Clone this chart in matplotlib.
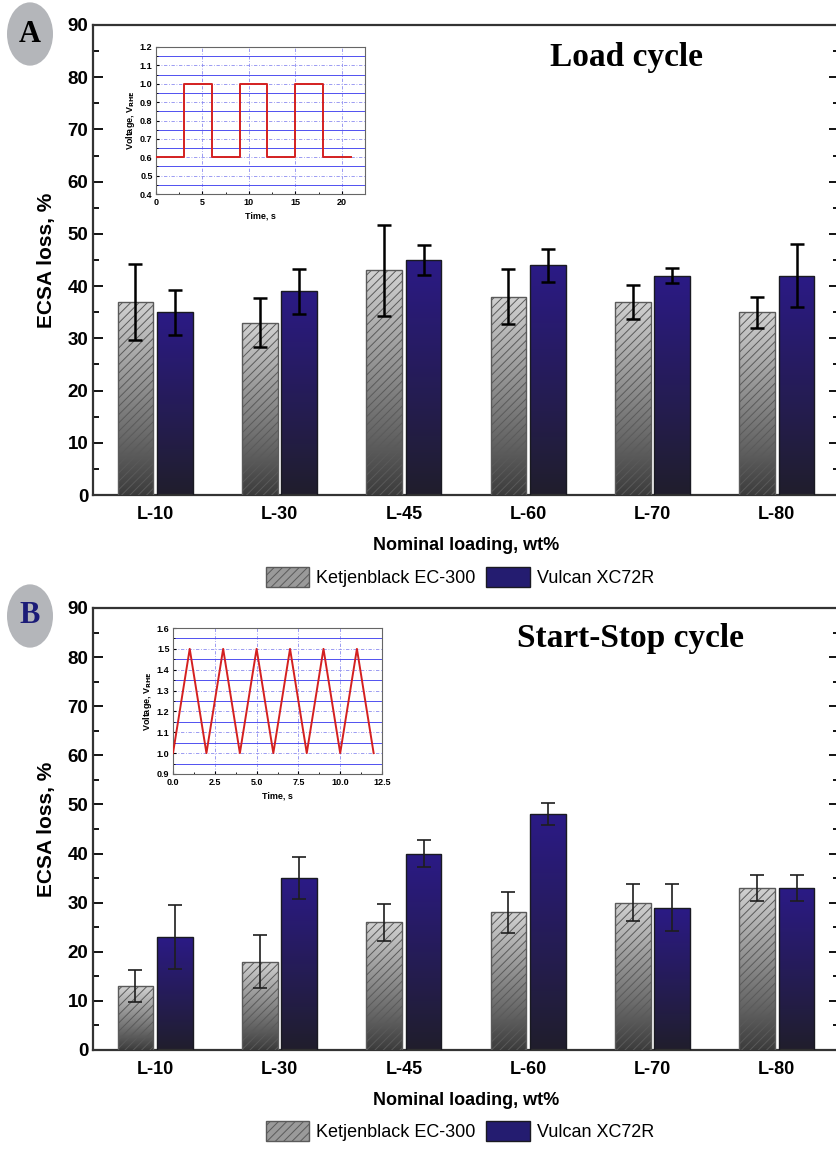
import numpy as np
import matplotlib
matplotlib.use('Agg')
import matplotlib.pyplot as plt
from matplotlib.colors import LinearSegmentedColormap
from matplotlib.patches import Patch, Circle
from matplotlib.ticker import MultipleLocator

# data
loadings = ['L-10', 'L-30', 'L-45', 'L-60', 'L-70', 'L-80']
series = ['Ketjenblack EC-300', 'Vulcan XC72R']

load_ketjen = [37, 33, 43, 38, 37, 35]
load_ketjen_err = [7.3, 4.7, 8.7, 5.2, 3.3, 3.0]
load_vulcan = [35, 39, 45, 44, 42, 42]
load_vulcan_err = [4.3, 4.3, 2.9, 3.2, 1.4, 6.0]

ss_ketjen = [13, 18, 26, 28, 30, 33]
ss_ketjen_err = [3.2, 5.4, 3.8, 4.1, 3.8, 2.7]
ss_vulcan = [23, 35, 40, 48, 29, 33]
ss_vulcan_err = [6.5, 4.2, 2.8, 2.2, 4.7, 2.7]

# inset protocols
load_t = [0, 3, 3, 6, 6, 9, 9, 12, 12, 15, 15, 18, 18, 21]
load_v = [0.6, 0.6, 1.0, 1.0, 0.6, 0.6, 1.0, 1.0, 0.6, 0.6, 1.0, 1.0, 0.6, 0.6]
ss_t = [0, 1, 2, 3, 4, 5, 6, 7, 8, 9, 10, 11, 12]
ss_v = [1.0, 1.5, 1.0, 1.5, 1.0, 1.5, 1.0, 1.5, 1.0, 1.5, 1.0, 1.5, 1.0]

plt.rcParams['font.family'] = 'Liberation Sans'
plt.rcParams['hatch.linewidth'] = 0.7

W, H = 836, 1150
fig = plt.figure(figsize=(W / 100, H / 100), dpi=100)

grey_cmap = LinearSegmentedColormap.from_list('g', ['#3c3c3c', '#d2d2d2'])
blue_cmap = LinearSegmentedColormap.from_list('b', ['#201e2c', '#2b1a86'])
grad = np.linspace(0, 1, 256).reshape(-1, 1)


def gradient_bars(ax, xs, hs, w, cmap, hatch, ec):
    bars = ax.bar(xs, hs, w, facecolor='none', edgecolor=ec, hatch=hatch,
                  lw=1.0, zorder=3)
    for rect in bars:
        x0 = rect.get_x()
        h = rect.get_height()
        im = ax.imshow(grad, cmap=cmap, origin='lower', aspect='auto',
                       extent=[x0, x0 + w, 0, h], zorder=2)
        im.set_clip_path(rect)
    return bars


def panel(rect, ket, ket_err, vul, vul_err, err_lw, err_c):
    ax = fig.add_axes(rect)
    x = np.arange(len(loadings))
    w = 0.286
    off = 0.159
    gradient_bars(ax, x - off, ket, w, grey_cmap, '////', '#5a5a5a')
    gradient_bars(ax, x + off, vul, w, blue_cmap, None, '#1a1a22')
    ax.errorbar(x - off, ket, yerr=ket_err, fmt='none', ecolor=err_c,
                elinewidth=err_lw, capsize=5, capthick=err_lw, zorder=4)
    ax.errorbar(x + off, vul, yerr=vul_err, fmt='none', ecolor=err_c,
                elinewidth=err_lw, capsize=5, capthick=err_lw, zorder=4)
    ax.set_xlim(-0.5, 5.5)
    ax.set_ylim(0, 90)
    ax.set_xticks(x)
    ax.set_xticklabels(loadings, fontsize=13, fontweight='bold')
    ax.tick_params(axis='x', length=0, pad=8)
    ax.yaxis.set_major_locator(MultipleLocator(10))
    ax.yaxis.set_minor_locator(MultipleLocator(5))
    ax.tick_params(axis='y', which='both', direction='in', right=True,
                   labelsize=13.5, width=1.3)
    ax.tick_params(axis='y', which='major', length=7)
    ax.tick_params(axis='y', which='minor', length=4)
    for lab in ax.get_yticklabels():
        lab.set_fontweight('bold')
    for s in ax.spines.values():
        s.set_linewidth(1.6)
        s.set_color('#333333')
    ax.set_ylabel('ECSA loss, %', fontsize=15, fontweight='bold', labelpad=8)
    ax.set_xlabel('Nominal loading, wt%', fontsize=13, fontweight='bold',
                  labelpad=10)
    return ax


def inset(rect, t, v, xlim, ylim, xmaj, ymaj):
    ax = fig.add_axes(rect)
    ax.plot(t, v, color='#d42020', lw=1.4, zorder=3)
    ax.set_xlim(xlim)
    ax.set_ylim(ylim)
    ax.xaxis.set_major_locator(MultipleLocator(xmaj))
    ax.xaxis.set_minor_locator(MultipleLocator(xmaj / 2))
    ax.yaxis.set_major_locator(MultipleLocator(ymaj))
    ax.yaxis.set_minor_locator(MultipleLocator(ymaj / 2))
    ax.grid(which='major', color='#8c8cf0', lw=0.6, ls=(0, (4, 2, 1, 2)))
    ax.grid(which='minor', axis='y', color='#5050f0', lw=0.7, ls='-')
    ax.tick_params(which='both', direction='in', labelsize=6.5)
    ax.tick_params(axis='x', pad=3)
    ax.tick_params(axis='y', pad=2.5)
    ax.tick_params(which='major', length=2.5)
    ax.tick_params(which='minor', length=1.5)
    for lab in ax.get_xticklabels() + ax.get_yticklabels():
        lab.set_fontweight('bold')
    for s in ax.spines.values():
        s.set_linewidth(0.8)
        s.set_color('#666666')
    ax.set_xlabel('Time, s', fontsize=6.5, fontweight='bold', labelpad=3)
    ax.set_ylabel('Voltage, V$_{\\mathbf{RHE}}$', fontsize=6.5,
                  fontweight='bold', labelpad=2)
    return ax


def fx(px):
    return px / W


def fy(py):
    return 1 - py / H


axA = panel([fx(93), fy(495), fx(746), (495 - 25) / H],
            load_ketjen, load_ketjen_err, load_vulcan, load_vulcan_err,
            1.8, 'black')
axB = panel([fx(93), fy(1050), fx(746), (1050 - 608) / H],
            ss_ketjen, ss_ketjen_err, ss_vulcan, ss_vulcan_err,
            1.2, '#1e1e1e')

axA.text(0.715, 0.93, 'Load cycle', transform=axA.transAxes,
         family='Liberation Serif', fontsize=24, fontweight='bold',
         ha='center', va='center')
axB.text(0.72, 0.93, 'Start-Stop cycle', transform=axB.transAxes,
         family='Liberation Serif', fontsize=24, fontweight='bold',
         ha='center', va='center')

inset([fx(156), fy(194), fx(209), 147 / H], load_t, load_v,
      (0, 22.5), (0.4, 1.2), 5, 0.1)
inset([fx(173), fy(774), fx(209), 146 / H], ss_t, ss_v,
      (0, 12.5), (0.9, 1.6), 2.5, 0.1)

handles = [Patch(facecolor='#9a9a9a', edgecolor='#5a5a5a', hatch='////'),
           Patch(facecolor='#241c70', edgecolor='#1a1a22')]
for ly in (577, 1131):
    fig.legend(handles, series, loc='center', ncol=2, frameon=False,
               bbox_to_anchor=(fx(460), fy(ly)), fontsize=13,
               handlelength=2.4, handleheight=1.4, columnspacing=0.6,
               handletextpad=0.4)

# circled panel letters
for (cx, cy), letter, col in (((30, 34), 'A', 'black'),
                              ((30, 616), 'B', '#1c1c78')):
    fig.patches.append(Circle((fx(cx), fy(cy)), 23 / W, transform=fig.transFigure,
                              facecolor='#b4b6ba', edgecolor='none'))
    fig.text(fx(cx), fy(cy), letter, family='Liberation Serif', fontsize=22,
             fontweight='bold', color=col, ha='center', va='center')

fig.savefig('out.png', dpi=100)
